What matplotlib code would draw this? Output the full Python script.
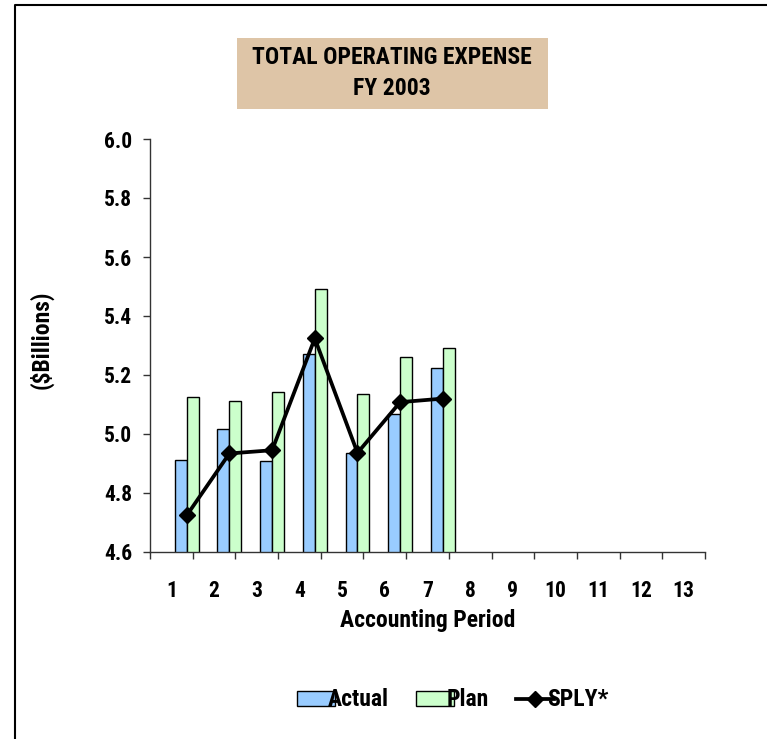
import numpy as np
import matplotlib
matplotlib.use('Agg')
import matplotlib.pyplot as plt
from matplotlib import font_manager
from matplotlib.patches import Rectangle
from matplotlib.lines import Line2D

# narrow Arial-like face if one is installed, else plain Liberation Sans
installed = {f.name for f in font_manager.fontManager.ttflist}
wanted = ['Liberation Sans Narrow', 'DejaVu Sans Condensed', 'Roboto Condensed',
          'Liberation Sans']
family = [f for f in wanted if f in installed] + ['DejaVu Sans']
plt.rcParams['font.family'] = family
plt.rcParams['font.weight'] = 'bold'
plt.rcParams['axes.labelweight'] = 'bold'

# data ($ billions)
periods = list(range(1, 14))
actual = [4.912, 5.017, 4.908, 5.270, 4.937, 5.069, 5.225]
plan = [5.125, 5.111, 5.144, 5.491, 5.134, 5.260, 5.290]
sply = [4.724, 4.934, 4.945, 5.324, 4.936, 5.108, 5.120]
y_ticks = [4.6, 4.8, 5.0, 5.2, 5.4, 5.6, 5.8, 6.0]

W, H = 767, 739
fig = plt.figure(figsize=(W / 100, H / 100), dpi=100)
ax = fig.add_axes([150 / W, 1 - 552 / H, 555 / W, 413 / H])

n = len(actual)
x = np.arange(1, n + 1)
bw = 0.28
b1 = ax.bar(x + 0.08, actual, width=bw, align='edge', color='#99CCFF',
            edgecolor='black', linewidth=1.0, label='Actual', zorder=2)
b2 = ax.bar(x + 0.08 + bw, plan, width=bw, align='edge', color='#CCFFCC',
            edgecolor='black', linewidth=1.0, label='Plan', zorder=2)
ln, = ax.plot(x + 0.08 + bw, sply, color='black', linewidth=2.7, marker='D',
              markersize=8.5, label='SPLY*', zorder=3)

ax.set_xlim(0.5, 13.5)
ax.set_ylim(4.6, 6.0)
ax.set_yticks(y_ticks)
ax.set_yticklabels([f'{v:.1f}' for v in y_ticks])
ax.set_xticks(periods)
ax.set_xticklabels([str(p) for p in periods])
ax.set_xticks(np.arange(0.5, 14, 1.0), minor=True)
ax.tick_params(axis='x', which='major', length=0, pad=20, labelsize=15.5)
ax.tick_params(axis='x', which='minor', length=5, width=1, color='#333333')
ax.tick_params(axis='y', length=5, width=1, color='#333333', pad=8, labelsize=15.5)
for s in ['top', 'right']:
    ax.spines[s].set_visible(False)
for s in ['left', 'bottom']:
    ax.spines[s].set_color('#333333')
    ax.spines[s].set_linewidth(1.0)

ax.set_xlabel('Accounting Period', fontsize=17, labelpad=5)
fig.text(41 / W, 1 - 340 / H, '($Billions)', rotation=90, fontsize=17,
         ha='center', va='center')

# title box
fig.add_artist(Rectangle((237 / W, 1 - 109 / H), 311 / W, 71 / H,
                         transform=fig.transFigure, facecolor='#DEC5A7',
                         edgecolor='none'))
fig.text(392 / W, 1 - 73 / H, 'TOTAL OPERATING EXPENSE\nFY 2003', fontsize=17,
         ha='center', va='center', linespacing=1.4)

ax.legend(handles=[b1, b2, ln], loc='center', bbox_to_anchor=(453 / W, 1 - 700 / H),
          bbox_transform=fig.transFigure, ncol=3, frameon=False, fontsize=17,
          handlelength=1.6, handleheight=0.6, handletextpad=-0.3, columnspacing=1.15)

# outer border (left and top edges)
fig.add_artist(Line2D([14.5 / W, 14.5 / W, 1], [0, 1 - 4.5 / H, 1 - 4.5 / H],
                      transform=fig.transFigure, color='black', linewidth=1.5))

fig.savefig('out.png', dpi=100)
